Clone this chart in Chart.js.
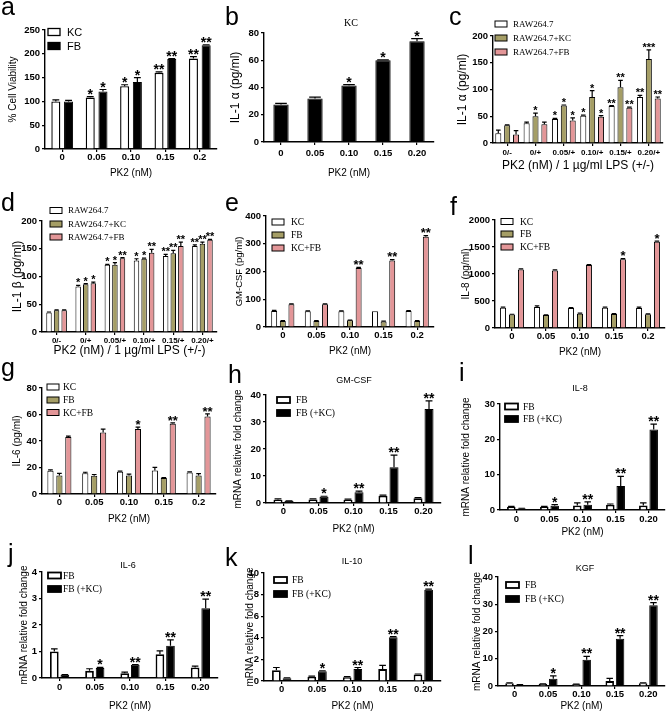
<!DOCTYPE html>
<html>
<head>
<meta charset="utf-8">
<script src="https://cdn.jsdelivr.net/npm/chart.js@4.4.1/dist/chart.umd.min.js"></script>
<style>
html, body { margin: 0; padding: 0; background: #fff; }
body { position: relative; width: 671px; height: 712px; overflow: hidden; }
canvas { position: absolute; }
</style>
</head>
<body>
<canvas id="pa"></canvas><canvas id="pb"></canvas><canvas id="pc"></canvas>
<canvas id="pd"></canvas><canvas id="pe"></canvas><canvas id="pf"></canvas>
<canvas id="pg"></canvas><canvas id="ph"></canvas><canvas id="pi"></canvas>
<canvas id="pj"></canvas><canvas id="pk"></canvas><canvas id="pl"></canvas>
<script>
// x categories
const doseShort = ['0', '0.05', '0.10', '0.15', '0.2'];
const doseLong = ['0', '0.05', '0.10', '0.15', '0.20'];
const lpsDose = ['0/-', '0/+', '0.05/+', '0.10/+', '0.15/+', '0.20/+'];

// a - cell viability
const viaKC = [100, 108, 132, 160, 190];
const viaKCErr = [3, 2, 3, 2, 4];
const viaKCStars = ['', '*', '*', '**', '**'];
const viaFB = [100, 121, 141, 189, 218];
const viaFBErr = [2, 4, 9, 1, 1];
const viaFBStars = ['', '*', '*', '**', '**'];

// b - IL-1a from KC
const il1aKC = [27.5, 32, 41.5, 60, 74];
const il1aKCErr = [0.8, 1, 0.6, 0.3, 1.8];
const il1aKCStars = ['', '', '*', '*', '*'];

// c - IL-1a, RAW264.7 co-cultures
const cRaw = [18, 37, 45, 51, 69, 86];
const cRawErr = [6, 2, 1, 1, 1, 3];
const cRawStars = ['', '', '*', '*', '**', '**'];
const cKC = [33, 50, 70, 86, 104, 157];
const cKCErr = [1, 6, 1, 12, 13, 17];
const cKCStars = ['', '*', '*', '*', '**', '***'];
const cFB = [16, 35, 42, 49, 66, 83];
const cFBErr = [7, 4, 5, 2, 1, 3];
const cFBStars = ['', '', '*', '*', '**', '**'];

// d - IL-1b, RAW264.7 co-cultures
const dRaw = [35, 82, 121, 129, 137, 155];
const dRawErr = [1, 2, 1, 3, 3, 2];
const dRawStars = ['', '*', '*', '*', '**', '**'];
const dKC = [39, 86, 121, 132, 142, 159];
const dKCErr = [1, 1, 4, 1, 5, 3];
const dKCStars = ['', '*', '*', '*', '**', '**'];
const dFB = [39, 88, 133, 143, 155, 166];
const dFBErr = [1, 2, 1, 6, 7, 1];
const dFBStars = ['', '*', '**', '**', '**', '**'];

// e - GM-CSF protein
const eKC = [58, 57, 57, 57, 58];
const eKCErr = [2, 1, 1, 0, 1];
const eFB = [22, 22, 24, 20, 22];
const eFBErr = [1, 1, 1, 1, 1];
const eMix = [82, 82, 213, 240, 325];
const eMixErr = [1, 1, 2, 3, 4];
const eMixStars = ['', '', '**', '**', '**'];

// f - IL-8 protein
const fKC = [375, 390, 370, 375, 370];
const fKCErr = [10, 20, 10, 10, 15];
const fFB = [250, 240, 265, 260, 255];
const fFBErr = [5, 5, 10, 5, 5];
const fMix = [1085, 1065, 1165, 1275, 1595];
const fMixErr = [10, 10, 10, 10, 15];
const fMixStars = ['', '', '', '*', '*'];

// g - IL-6 protein
const gKC = [17.5, 15.7, 16.8, 17.8, 16.3];
const gKCErr = [0.7, 0.7, 0.4, 2.3, 0.4];
const gFB = [14, 13.7, 14, 12, 14];
const gFBErr = [1.5, 1, 1, 0.3, 1.4];
const gMix = [43, 46.5, 49, 53, 58.5];
const gMixErr = [0.7, 2.5, 1.5, 0.7, 2];
const gMixStars = ['', '', '*', '**', '**'];

// h - GM-CSF mRNA
const hFB = [1.2, 1.3, 1.2, 2.7, 1.8];
const hFBErr = [0.3, 0.2, 0.2, 0.2, 0.2];
const hKC = [0.7, 2.3, 4.0, 13.2, 34.8];
const hKCErr = [0.1, 0.2, 0.4, 4.5, 3];
const hKCStars = ['', '*', '**', '**', '**'];

// i - IL-8 mRNA
const iFB = [0.9, 0.9, 1.3, 1.5, 1.3];
const iFBErr = [0.1, 0.1, 0.7, 0.2, 0.7];
const iKC = [0.4, 1.2, 1.5, 6.8, 22.8];
const iKCErr = [0.1, 0.3, 0.8, 2.7, 1.5];
const iKCStars = ['', '*', '**', '**', '**'];

// j - IL-6 mRNA
const jFB = [1.0, 0.27, 0.18, 0.9, 0.4];
const jFBErr = [0.1, 0.08, 0.04, 0.12, 0.05];
const jKC = [0.12, 0.38, 0.5, 1.22, 2.63];
const jKCErr = [0.01, 0.02, 0.01, 0.22, 0.35];
const jKCStars = ['', '*', '**', '**', '**'];

// k - IL-10 mRNA
const kFB = [1.0, 0.4, 0.35, 1.1, 0.6];
const kFBErr = [0.25, 0.05, 0.05, 0.35, 0.05];
const kKC = [0.25, 0.9, 1.1, 4.05, 8.45];
const kKCErr = [0.05, 0.05, 0.15, 0.05, 0.05];
const kKCStars = ['', '*', '**', '**', '**'];

// l - KGF mRNA
const lFB = [1.0, 0.7, 0.6, 1.8, 1.0];
const lFBErr = [0.2, 0.1, 0.1, 1.0, 0.2];
const lKC = [0.5, 2.7, 9.6, 17.3, 29.6];
const lKCErr = [0.05, 1.0, 1.3, 1.2, 1.0];
const lKCStars = ['', '*', '**', '**', '**'];

const SANS = "'Liberation Sans', Arial, sans-serif";
const SERIF = "'Liberation Serif', 'Times New Roman', serif";
const WHITE = '#ffffff', BLACK = '#000000', OLIVE = '#a59e66', PINK = '#e39698';

// draws error bars, stars, legend, panel letter and small title
function extras(p) {
  const [bx, by] = p.box;
  return {
    id: 'extras',
    afterDatasetsDraw(chart) {
      const ctx = chart.ctx, ys = chart.scales.y;
      ctx.save();
      chart.data.datasets.forEach((ds, i) => {
        chart.getDatasetMeta(i).data.forEach((bar, j) => {
          const e = ds.err ? ds.err[j] : 0;
          const top = ys.getPixelForValue(ds.data[j] + e);
          if (e > 0) {
            const cw = bar.width * 0.38;
            ctx.strokeStyle = BLACK;
            ctx.lineWidth = 1.2;
            ctx.beginPath();
            ctx.moveTo(bar.x, bar.y);
            ctx.lineTo(bar.x, top);
            ctx.moveTo(bar.x - cw, top);
            ctx.lineTo(bar.x + cw, top);
            ctx.stroke();
          }
          const st = ds.stars ? ds.stars[j] : '';
          if (st) {
            ctx.fillStyle = BLACK;
            ctx.font = 'bold ' + p.starSize + 'px ' + SANS;
            ctx.textAlign = 'center';
            ctx.textBaseline = 'alphabetic';
            ctx.fillText(st, bar.x, top + p.starSize * 0.36 - 3);
          }
        });
      });
      // legend
      if (p.legend) {
        const lg = p.legend;
        chart.data.datasets.forEach((ds, i) => {
          const cy = lg.ys[i] - by;
          ctx.fillStyle = ds.backgroundColor;
          ctx.fillRect(lg.x - bx, cy - lg.h / 2, lg.w, lg.h);
          ctx.strokeStyle = BLACK;
          ctx.lineWidth = lg.lw;
          ctx.strokeRect(lg.x - bx, cy - lg.h / 2, lg.w, lg.h);
          ctx.fillStyle = BLACK;
          ctx.font = lg.font;
          ctx.textAlign = 'left';
          ctx.textBaseline = 'middle';
          ctx.fillText(ds.label, lg.textX - bx, cy + 0.5);
        });
      }
      // panel letter
      ctx.fillStyle = BLACK;
      ctx.font = '25px ' + SANS;
      ctx.textAlign = 'left';
      ctx.textBaseline = 'alphabetic';
      ctx.fillText(p.letter[0], p.letter[1] - bx, p.letter[2] - by);
      // small title above plot
      if (p.title) {
        ctx.font = p.title[3];
        ctx.textAlign = 'center';
        ctx.textBaseline = 'middle';
        ctx.fillText(p.title[0], p.title[1] - bx, p.title[2] - by);
      }
      ctx.restore();
    }
  };
}

function makePanel(p) {
  const [bx, by, bw, bh] = p.box;
  const [L, T, R, B] = p.area;
  const cv = document.getElementById(p.id);
  cv.width = bw;
  cv.height = bh;
  cv.style.left = bx + 'px';
  cv.style.top = by + 'px';
  const xts = p.xTitleSize || 10, yts = p.yTitleSize || 10;
  new Chart(cv, {
    type: 'bar',
    data: {
      labels: p.labels,
      datasets: p.sets.map(s => ({
        label: s.label,
        data: s.data,
        err: s.err,
        stars: s.stars,
        backgroundColor: s.fill,
        borderColor: BLACK,
        borderWidth: s.bw || 1,
        categoryPercentage: p.cat,
        barPercentage: p.bar
      }))
    },
    options: {
      responsive: false,
      animation: false,
      devicePixelRatio: 1,
      layout: {padding: {left: 0, top: T - by, right: bx + bw - R, bottom: 0}},
      plugins: {legend: {display: false}, tooltip: {enabled: false}, title: {display: false}},
      scales: {
        x: {
          grid: {drawOnChartArea: false, offset: false, color: BLACK, tickLength: 3, lineWidth: 1.2},
          border: {color: BLACK, width: 1.4},
          ticks: {
            color: BLACK, font: {family: SANS, size: p.xTickSize || 9.5, weight: 'bold'},
            padding: p.tickPad || 0, maxRotation: 0, autoSkip: false
          },
          title: {
            display: true, text: p.xTitle, color: BLACK, font: {family: SANS, size: xts},
            padding: {top: 0, bottom: Math.max(0, by + bh - p.xTitleY - xts * 0.6)}
          },
          afterFit: s => { s.height = by + bh - B; }
        },
        y: {
          min: 0, max: p.yMax,
          grid: {drawOnChartArea: false, color: BLACK, tickLength: 3, lineWidth: 1.2},
          border: {color: BLACK, width: 1.4},
          ticks: {
            stepSize: p.yStep, color: BLACK, font: {family: SANS, size: 9.5, weight: 'bold'},
            padding: 2, callback: v => String(v)
          },
          title: {
            display: true, text: p.yTitle, color: BLACK, font: {family: SANS, size: yts},
            padding: {top: Math.max(0, p.yTitleX - bx - yts * 0.6), bottom: 0}
          },
          afterFit: s => { s.width = L - bx; }
        }
      }
    },
    plugins: [extras(p)]
  });
}

const lpsTitle = 'PK2 (nM) / 1 \u00b5g/ml LPS (+/-)';

makePanel({
  id: 'pa', box: [0, 0, 224, 190], area: [45, 30, 217, 149], labels: doseShort,
  yMax: 250, yStep: 50, yTitle: '% Cell Viability', yTitleX: 13,
  xTitle: 'PK2 (nM)', xTitleY: 173, cat: 0.74, bar: 0.71, starSize: 14,
  letter: ['a', 1, 15],
  legend: {x: 48, w: 12, h: 7, lw: 1.3, ys: [32, 46], textX: 67, font: '11px ' + SANS},
  sets: [
    {label: 'KC', data: viaKC, err: viaKCErr, stars: viaKCStars, fill: WHITE, bw: 1.4},
    {label: 'FB', data: viaFB, err: viaFBErr, stars: viaFBStars, fill: BLACK}
  ]
});

makePanel({
  id: 'pb', box: [224, 0, 224, 190], area: [264, 33, 434, 142], labels: doseLong,
  yMax: 80, yStep: 20, yTitle: 'IL-1 \u03b1 (pg/ml)', yTitleX: 236, yTitleSize: 12,
  xTitle: 'PK2 (nM)', xTitleY: 173, tickPad: 3, cat: 0.5, bar: 0.9, starSize: 14,
  letter: ['b', 225, 25], title: ['KC', 351, 23, '10px ' + SERIF],
  sets: [
    {label: 'KC', data: il1aKC, err: il1aKCErr, stars: il1aKCStars, fill: BLACK}
  ]
});

makePanel({
  id: 'pc', box: [448, 0, 223, 190], area: [493, 36, 663, 143], labels: lpsDose,
  yMax: 200, yStep: 50, yTitle: 'IL-1 \u03b1 (pg/ml)', yTitleX: 463, yTitleSize: 12,
  xTitle: lpsTitle, xTitleY: 166, xTitleSize: 12, tickPad: 2, xTickSize: 8,
  cat: 0.94, bar: 0.68, starSize: 11,
  letter: ['c', 449, 25],
  legend: {x: 495, w: 12, h: 6, lw: 1, ys: [24, 38, 52], textX: 513, font: '9px ' + SERIF},
  sets: [
    {label: 'RAW264.7', data: cRaw, err: cRawErr, stars: cRawStars, fill: WHITE},
    {label: 'RAW264.7+KC', data: cKC, err: cKCErr, stars: cKCStars, fill: OLIVE},
    {label: 'RAW264.7+FB', data: cFB, err: cFBErr, stars: cFBStars, fill: PINK}
  ]
});

makePanel({
  id: 'pd', box: [0, 178, 224, 190], area: [42, 221, 217, 332], labels: lpsDose,
  yMax: 200, yStep: 50, yTitle: 'IL-1 \u03b2 (pg/ml)', yTitleX: 18, yTitleSize: 12,
  xTitle: lpsTitle, xTitleY: 351, xTitleSize: 12, tickPad: 1, xTickSize: 8,
  cat: 0.78, bar: 0.72, starSize: 11,
  letter: ['d', 1, 211],
  legend: {x: 50, w: 12, h: 6, lw: 1, ys: [210.5, 224, 237], textX: 68, font: '9px ' + SERIF},
  sets: [
    {label: 'RAW264.7', data: dRaw, err: dRawErr, stars: dRawStars, fill: WHITE},
    {label: 'RAW264.7+KC', data: dKC, err: dKCErr, stars: dKCStars, fill: OLIVE},
    {label: 'RAW264.7+FB', data: dFB, err: dFBErr, stars: dFBStars, fill: PINK}
  ]
});

makePanel({
  id: 'pe', box: [224, 178, 224, 190], area: [266, 216, 434, 327], labels: doseShort,
  yMax: 400, yStep: 100, yTitle: 'GM-CSF (pg/ml)', yTitleX: 239, yTitleSize: 9.5,
  xTitle: 'PK2 (nM)', xTitleY: 351, cat: 0.77, bar: 0.69, starSize: 13,
  letter: ['e', 225, 211],
  legend: {x: 272, w: 12, h: 6, lw: 1, ys: [222, 235, 248], textX: 291, font: '9.5px ' + SERIF},
  sets: [
    {label: 'KC', data: eKC, err: eKCErr, fill: WHITE},
    {label: 'FB', data: eFB, err: eFBErr, fill: OLIVE},
    {label: 'KC+FB', data: eMix, err: eMixErr, stars: eMixStars, fill: PINK}
  ]
});

makePanel({
  id: 'pf', box: [448, 178, 223, 190], area: [495, 220, 665, 328], labels: doseShort,
  yMax: 2000, yStep: 500, yTitle: 'IL-8 (pg/ml)', yTitleX: 466,
  xTitle: 'PK2 (nM)', xTitleY: 352, cat: 0.79, bar: 0.67, starSize: 13,
  letter: ['f', 450, 215],
  legend: {x: 501, w: 12, h: 6, lw: 1, ys: [221.5, 234, 247], textX: 520, font: '9.5px ' + SERIF},
  sets: [
    {label: 'KC', data: fKC, err: fKCErr, fill: WHITE},
    {label: 'FB', data: fFB, err: fFBErr, fill: OLIVE},
    {label: 'KC+FB', data: fMix, err: fMixErr, stars: fMixStars, fill: PINK}
  ]
});

makePanel({
  id: 'pg', box: [0, 356, 224, 190], area: [42, 388, 216, 494], labels: doseShort,
  yMax: 80, yStep: 20, yTitle: 'IL-6 (pg/ml)', yTitleX: 17,
  xTitle: 'PK2 (nM)', xTitleY: 519, cat: 0.77, bar: 0.69, starSize: 13,
  letter: ['g', 1, 376],
  legend: {x: 47, w: 12, h: 6, lw: 1, ys: [387, 400, 412.5], textX: 63, font: '9.5px ' + SERIF},
  sets: [
    {label: 'KC', data: gKC, err: gKCErr, fill: WHITE},
    {label: 'FB', data: gFB, err: gFBErr, fill: OLIVE},
    {label: 'KC+FB', data: gMix, err: gMixErr, stars: gMixStars, fill: PINK}
  ]
});

const mrnaLegendFont = '9.5px ' + SERIF;

makePanel({
  id: 'ph', box: [224, 356, 224, 190], area: [266, 395, 441, 503], labels: doseLong,
  yMax: 40, yStep: 10, yTitle: 'mRNA relative fold change', yTitleX: 238,
  xTitle: 'PK2 (nM)', xTitleY: 529, cat: 0.63, bar: 0.82, starSize: 14,
  letter: ['h', 228, 383], title: ['GM-CSF', 354, 381, '9px ' + SANS],
  legend: {x: 277, w: 13, h: 6, lw: 1.8, ys: [400, 413], textX: 296, font: mrnaLegendFont},
  sets: [
    {label: 'FB', data: hFB, err: hFBErr, fill: WHITE, bw: 1.8},
    {label: 'FB (+KC)', data: hKC, err: hKCErr, stars: hKCStars, fill: BLACK}
  ]
});

makePanel({
  id: 'pi', box: [448, 356, 223, 190], area: [500, 404, 665, 510], labels: doseLong,
  yMax: 30, yStep: 10, yTitle: 'mRNA relative fold change', yTitleX: 466,
  xTitle: 'PK2 (nM)', xTitleY: 532, tickPad: 1, cat: 0.63, bar: 0.82, starSize: 14,
  letter: ['i', 459, 381], title: ['IL-8', 580, 389, '9px ' + SANS],
  legend: {x: 505, w: 13, h: 6, lw: 1.8, ys: [406.5, 419], textX: 523, font: mrnaLegendFont},
  sets: [
    {label: 'FB', data: iFB, err: iFBErr, fill: WHITE, bw: 1.8},
    {label: 'FB (+KC)', data: iKC, err: iKCErr, stars: iKCStars, fill: BLACK}
  ]
});

makePanel({
  id: 'pj', box: [0, 534, 224, 178], area: [42, 572, 218, 678], labels: doseLong,
  yMax: 4, yStep: 1, yTitle: 'mRNA relative fold change', yTitleX: 24,
  xTitle: 'PK2 (nM)', xTitleY: 706, tickPad: 1, cat: 0.6, bar: 0.82, starSize: 14,
  letter: ['j', 8, 562], title: ['IL-6', 128, 566, '9px ' + SANS],
  legend: {x: 48, w: 13, h: 6, lw: 1.8, ys: [575.5, 589], textX: 63, font: mrnaLegendFont},
  sets: [
    {label: 'FB', data: jFB, err: jFBErr, fill: WHITE, bw: 1.8},
    {label: 'FB (+KC)', data: jKC, err: jKCErr, stars: jKCStars, fill: BLACK}
  ]
});

makePanel({
  id: 'pk', box: [224, 534, 224, 178], area: [264, 573, 441, 681], labels: doseLong,
  yMax: 10, yStep: 2, yTitle: 'mRNA relative fold change', yTitleX: 250,
  xTitle: 'PK2 (nM)', xTitleY: 706, cat: 0.6, bar: 0.82, starSize: 14,
  letter: ['k', 225, 566], title: ['IL-10', 352, 562, '9px ' + SANS],
  legend: {x: 274, w: 13, h: 6, lw: 1.8, ys: [580, 594], textX: 292, font: mrnaLegendFont},
  sets: [
    {label: 'FB', data: kFB, err: kFBErr, fill: WHITE, bw: 1.8},
    {label: 'FB (+KC)', data: kKC, err: kKCErr, stars: kKCStars, fill: BLACK}
  ]
});

makePanel({
  id: 'pl', box: [448, 534, 223, 178], area: [498, 577, 665, 686], labels: doseLong,
  yMax: 40, yStep: 10, yTitle: 'mRNA relative fold change', yTitleX: 477,
  xTitle: 'PK2 (nM)', xTitleY: 706, cat: 0.62, bar: 0.82, starSize: 14,
  letter: ['l', 468, 564], title: ['KGF', 585, 569, '9px ' + SANS],
  legend: {x: 506, w: 13, h: 6, lw: 1.8, ys: [585, 599], textX: 525, font: mrnaLegendFont},
  sets: [
    {label: 'FB', data: lFB, err: lFBErr, fill: WHITE, bw: 1.8},
    {label: 'FB (+KC)', data: lKC, err: lKCErr, stars: lKCStars, fill: BLACK}
  ]
});
</script>
</body>
</html>
